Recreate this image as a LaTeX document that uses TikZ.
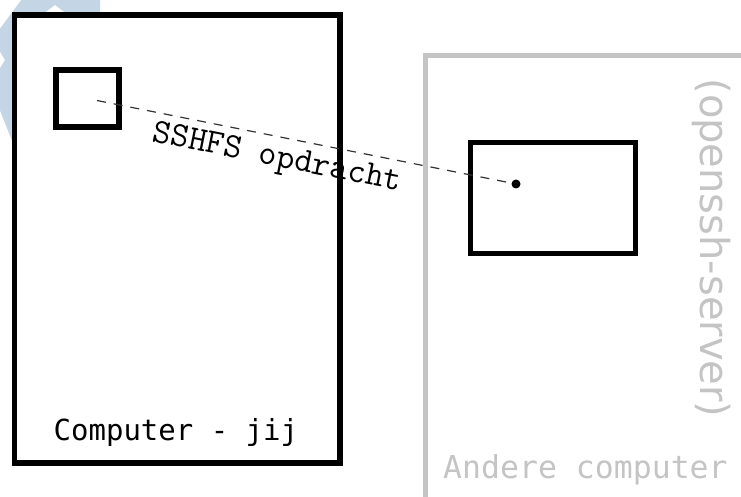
\documentclass[tikz,border=0pt]{standalone}
\usepackage{fontspec}
\usepackage{xcolor}
\usepackage{tikz}
\usetikzlibrary{positioning}
\newfontfamily\monofont{DejaVu Sans Mono}
\newfontfamily\serverfont{DejaVu Sans}
\definecolor{servergrey}{RGB}{196,196,196}
\definecolor{markblue}{RGB}{196,214,230}

\begin{document}
\begin{tikzpicture}[
  x=1pt, y=-1pt,
  box/.style={rectangle, draw=black, line width=5.5pt, fill=white, inner sep=0pt, outer sep=0pt},
  greybox/.style={rectangle, draw=servergrey, line width=5pt, inner sep=0pt, outer sep=0pt},
  link/.style={dash pattern=on 9pt off 8pt, line width=1.2pt, draw=black!80},
  caption/.style={font=\fontsize{29}{32}\selectfont\monofont, inner sep=0pt}
]
  \useasboundingbox (0,0) rectangle (741,497);
  \clip (0,0) rectangle (741,497);

  % watermark corner
  \fill[markblue] (22,-1) -- (100,-1) -- (100,14) -- (67,14) -- (55,5) -- (43,14) -- (14,14)
    -- (14,146) -- (-1,108) -- (-1,70) -- (5,60) -- (-1,50) -- (-1,30) -- cycle;

  \node[greybox, minimum width=374.5pt, minimum height=504.5pt] (server) at (612.75,307.75) {};
  \node[box, minimum width=325.5pt, minimum height=448pt] (jij) at (177.25,239) {};
  \node[box, minimum width=63pt, minimum height=57pt] (bron) at (87.5,98.5) {};
  \node[box, minimum width=165pt, minimum height=111pt] (doel) at (553,198) {};

  \node[caption, above right=16pt and 39pt of jij.south west] (jijtekst) {Computer - jij};
  \node[caption, font=\fontsize{31.5}{34}\selectfont\monofont, text=servergrey, anchor=base west] (servertekst) at (443,478) {Andere computer};
  \node[inner sep=0pt, rotate=-90, font=\fontsize{40}{44}\selectfont\serverfont, text=servergrey] (openssh) at (712,248) {(openssh-server)};

  \coordinate (start) at (97,100.5);
  \coordinate (punt) at (516,184);
  \draw[link] (start) -- (punt)
    node[pos=0.44, sloped, below, inner sep=7pt, text=black, font=\fontsize{35}{38}\selectfont\ttfamily] (opdracht) {SSHFS opdracht};
  \fill (punt) circle (4.5);
\end{tikzpicture}
\end{document}
